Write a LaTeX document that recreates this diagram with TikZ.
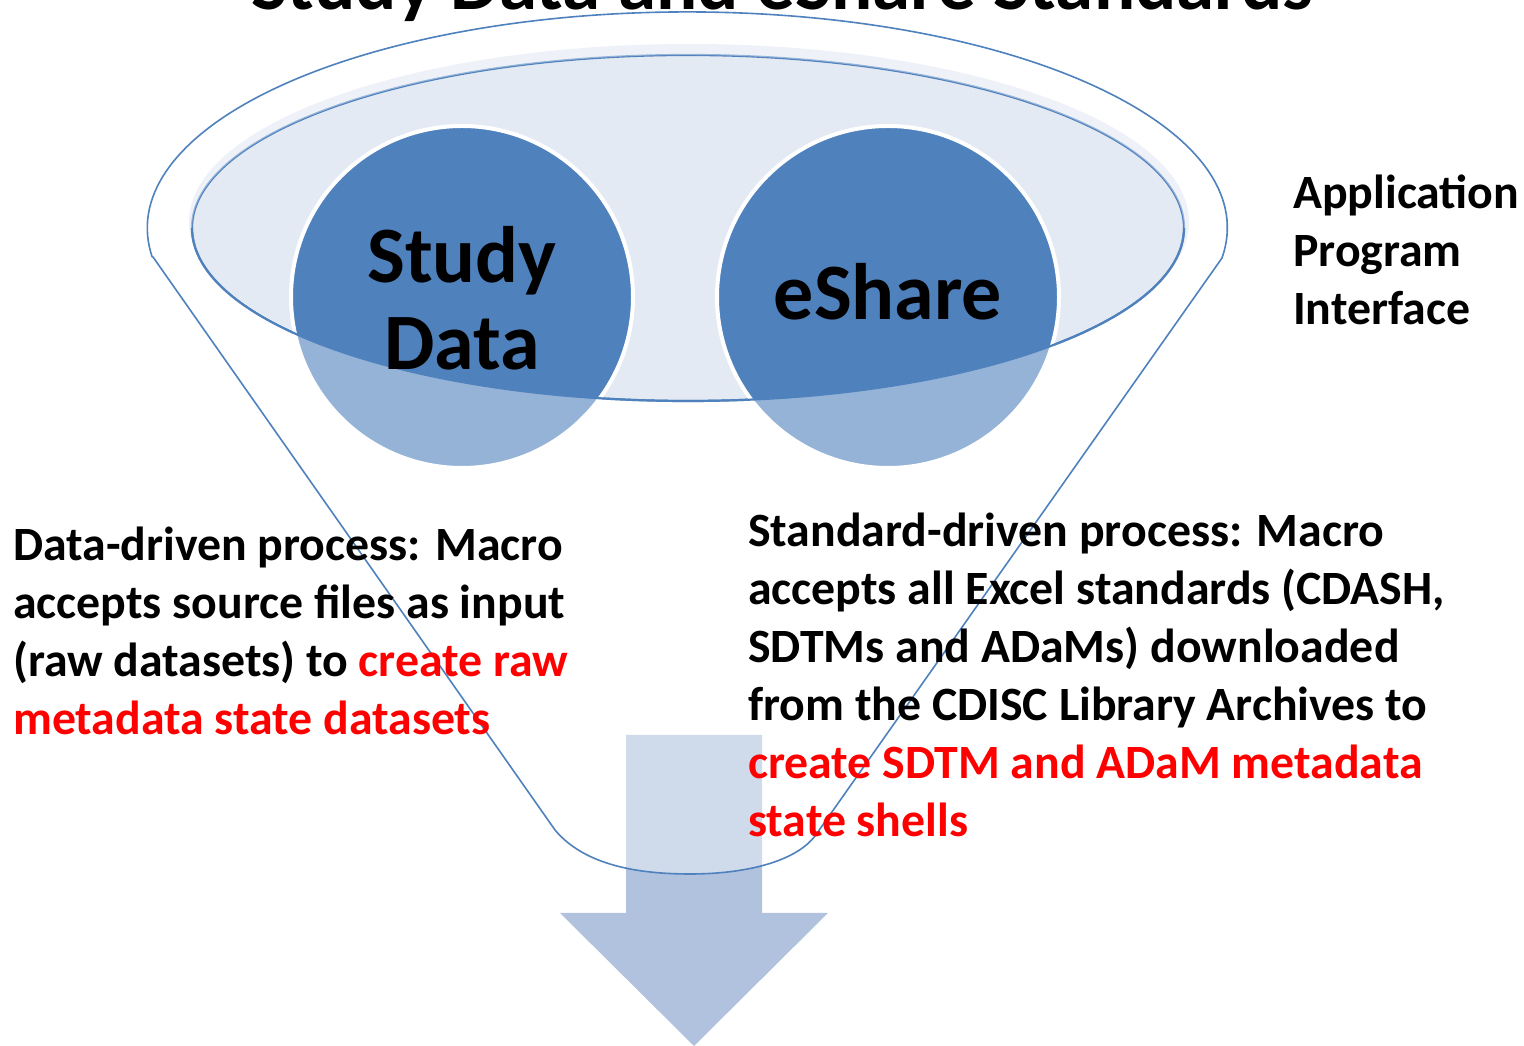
\documentclass[tikz,border=0pt]{standalone}
\usepackage{fontspec}
\setmainfont{Carlito}
\definecolor{accent}{HTML}{4F81BD}
\definecolor{rimfill}{HTML}{E4EAF4}
\definecolor{arrowfill}{HTML}{B0C2DD}
\definecolor{hotred}{HTML}{FF0000}
\tikzset{
  bigtext/.style={font=\fontsize{80}{87}\selectfont\bfseries, align=center, inner sep=0},
  bodytext/.style={font=\fontsize{47.8}{58}\selectfont\bfseries, align=left, inner sep=0, anchor=north west},
  ball/.style={circle, minimum size=342, inner sep=0, fill=accent, draw=white, line width=4},
  funnelline/.style={draw=accent, line width=1.6},
  rimline/.style={draw=accent, line width=2.2}
}
\begin{document}
\begin{tikzpicture}[x=1pt, y=1pt, line join=round]
\useasboundingbox (0,0) rectangle (1524,1046);

% heading, partly above the page edge
\node[anchor=base, font=\fontsize{77}{90}\selectfont\bfseries, inner sep=0] (title) at (782,1036) {Study Data and eShare Standards};

% mouth of the funnel: soft fill and its back rim
\coordinate (rimc) at (688,818);
\fill[rimfill] (689,824) ellipse[x radius=500, y radius=178];
\draw[rimline] (rimc) ellipse[x radius=496, y radius=173];

% the two balls sitting in the mouth
\node[ball] (study) at (462,749) {};
\node[ball] (eshare) at (888,749) {};

% outlet arrow
\fill[arrowfill] (626,311) -- (762,311) -- (762,133) -- (828,133) -- (694,0) -- (560,133) -- (626,133) -- cycle;

% translucent funnel body in front of the mouth contents
\fill[white, fill opacity=0.4, even odd rule]
  (153,789) -- (555,216) .. controls (585,180) and (640,172) .. (690,172)
  .. controls (745,172) and (795,184) .. (815,210) -- (1222,788)
  arc[start angle=-8, end angle=187.7, x radius=540, y radius=216] -- cycle
  (rimc) ellipse[x radius=496, y radius=173];

% funnel outline
\draw[funnelline]
  (153,789) -- (555,216) .. controls (585,180) and (640,172) .. (690,172)
  .. controls (745,172) and (795,184) .. (815,210) -- (1222,788)
  arc[start angle=-8, end angle=187.7, x radius=540, y radius=216] -- cycle;

% front rim of the mouth
\draw[rimline] (192,818) arc[start angle=180, end angle=360, x radius=496, y radius=173];

% ball labels
\node[bigtext] (studylbl) at (462,748) {Study\\Data};
\node[bigtext] (esharelbl) at (888,754) {eShare};

% side notes
\node[bodytext] (api) at (1293,871) {Application\\Program\\Interface};
\node[bodytext] (datadriven) at (13,519) {Data-driven process: Macro\\accepts source files as input\\(raw datasets) to \textcolor{hotred}{create raw}\\\textcolor{hotred}{metadata state datasets}};
\node[bodytext] (stddriven) at (748,533) {Standard-driven process: Macro\\accepts all Excel standards (CDASH,\\SDTMs and ADaMs) downloaded\\from the CDISC Library Archives to\\\textcolor{hotred}{create SDTM and ADaM metadata}\\\textcolor{hotred}{state shells}};
\end{tikzpicture}
\end{document}
